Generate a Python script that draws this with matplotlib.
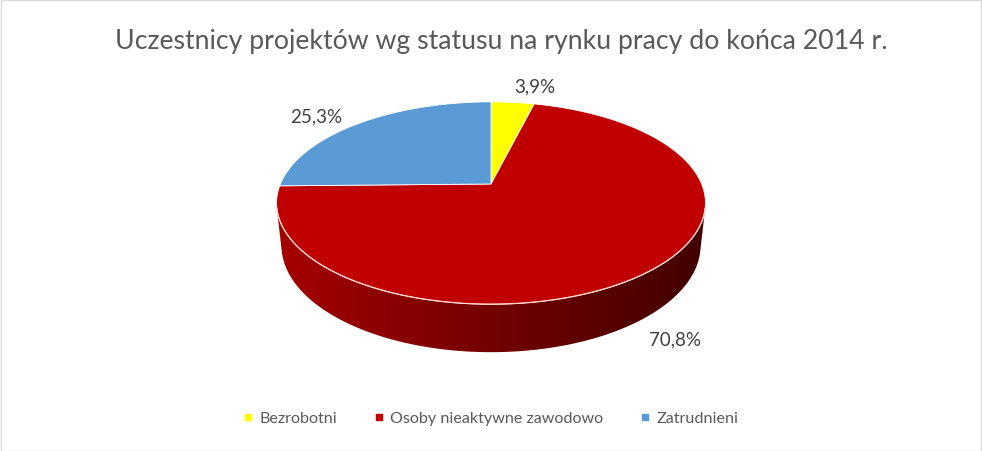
import numpy as np
import matplotlib.pyplot as plt
from matplotlib.colors import to_rgb
from matplotlib.patches import Polygon, Rectangle
from matplotlib.lines import Line2D

plt.rcParams['font.family'] = ['Lato', 'DejaVu Sans']

# data
labels = ['Bezrobotni', 'Osoby nieaktywne zawodowo', 'Zatrudnieni']
shares = [3.9, 70.8, 25.3]
share_text = ['3,9%', '70,8%', '25,3%']
colors = ['#FFFF00', '#C00000', '#5B9BD5']
title = 'Uczestnicy projektów wg statusu na rynku pracy do końca 2014 r.'

# layout of the 3d pie (pixels, camera)
W, H = 982, 452
CX, CY = 491, 185
SCALE = 992
ELEV = np.radians(27.6)
DIST = 4.71
THICK = 0.229
label_pos = [(535, 87), (675, 340), (316, 117)]


def project(phi, z=0.0, r=1.0):
    # phi measured clockwise from the far side (12 o'clock)
    x = r * np.sin(phi)
    y = r * np.cos(phi)
    c, s = np.cos(ELEV), np.sin(ELEV)
    vy = y + DIST * c
    vz = z - DIST * s
    depth = vy * c - vz * s
    up = vy * s + vz * c
    return CX + SCALE * x / depth, CY - SCALE * up / depth


def main():
    fig = plt.figure(figsize=(W / 100, H / 100), dpi=100)
    ax = fig.add_axes([0, 0, 1, 1])
    ax.set_xlim(0, W)
    ax.set_ylim(H, 0)
    ax.axis('off')

    fracs = np.array(shares) / np.sum(shares)
    edges = np.concatenate([[0], np.cumsum(fracs)]) * 2 * np.pi

    # side wall, only the part facing the camera
    c = np.cos(ELEV)
    ph0 = np.arccos(-1 / (DIST * c))
    ph1 = 2 * np.pi - ph0
    phis = np.linspace(ph0, ph1, 400)
    tx, ty = project(phis)
    bx, by = project(phis[::-1], -THICK)
    xs = np.concatenate([tx, bx])
    ys = np.concatenate([ty, by])
    wall = Polygon(np.column_stack([xs, ys]), closed=True, fc='none', ec='none')
    ax.add_patch(wall)

    # wall colour per column: slice colour under that point, darker to the right
    cols = np.arange(int(xs.min()) - 2, int(xs.max()) + 3)
    grad = np.zeros((1, len(cols), 3))
    xl, xr = tx.min(), tx.max()
    for i, xc in enumerate(cols):
        j = np.argmin(np.abs(tx - xc))
        k = np.searchsorted(edges, phis[j]) - 1
        t = np.clip((xr - xc) / (xr - xl), 0, 1)
        grad[0, i] = np.array(to_rgb(colors[k])) * (0.34 + 0.52 * t)
    im = ax.imshow(grad, extent=(cols[0], cols[-1], ys.max() + 2, ys.min() - 2),
                   aspect='auto', interpolation='bilinear', zorder=1)
    im.set_clip_path(wall)
    ax.set_xlim(0, W)
    ax.set_ylim(H, 0)

    # top face
    for k in range(len(shares)):
        arc = np.linspace(edges[k], edges[k + 1], 200)
        px, py = project(arc)
        pts = [(CX, CY)] + list(zip(px, py))
        ax.add_patch(Polygon(pts, closed=True, fc=colors[k], ec='#FFFFFF',
                             lw=0.6, joinstyle='round', zorder=2))

    # light rim along the front edge
    ax.plot(tx, ty, color='#FFD5D0', lw=0.9, zorder=3)

    for txt, (lx, ly) in zip(share_text, label_pos):
        ax.text(lx, ly, txt, ha='center', va='center', fontsize=13.5,
                color='#404040')

    ax.text(501, 42, title, ha='center', va='center', fontsize=19.2,
            color='#595959')

    handles = [Line2D([], [], ls='none', marker='s', ms=5, mfc=col, mec=col)
               for col in colors]
    ax.legend(handles, labels, loc='center', bbox_to_anchor=(0.5, 1 - 419 / H),
              ncol=3, frameon=False, fontsize=11.6, handlelength=0.6,
              handletextpad=0.4, columnspacing=2.3, labelcolor='#595959')

    ax.add_patch(Rectangle((0.5, 0.5), W - 1, H - 1, fill=False,
                           ec='#D9D9D9', lw=1))

    fig.savefig('out.png', dpi=100)


if __name__ == "__main__":
    main()
